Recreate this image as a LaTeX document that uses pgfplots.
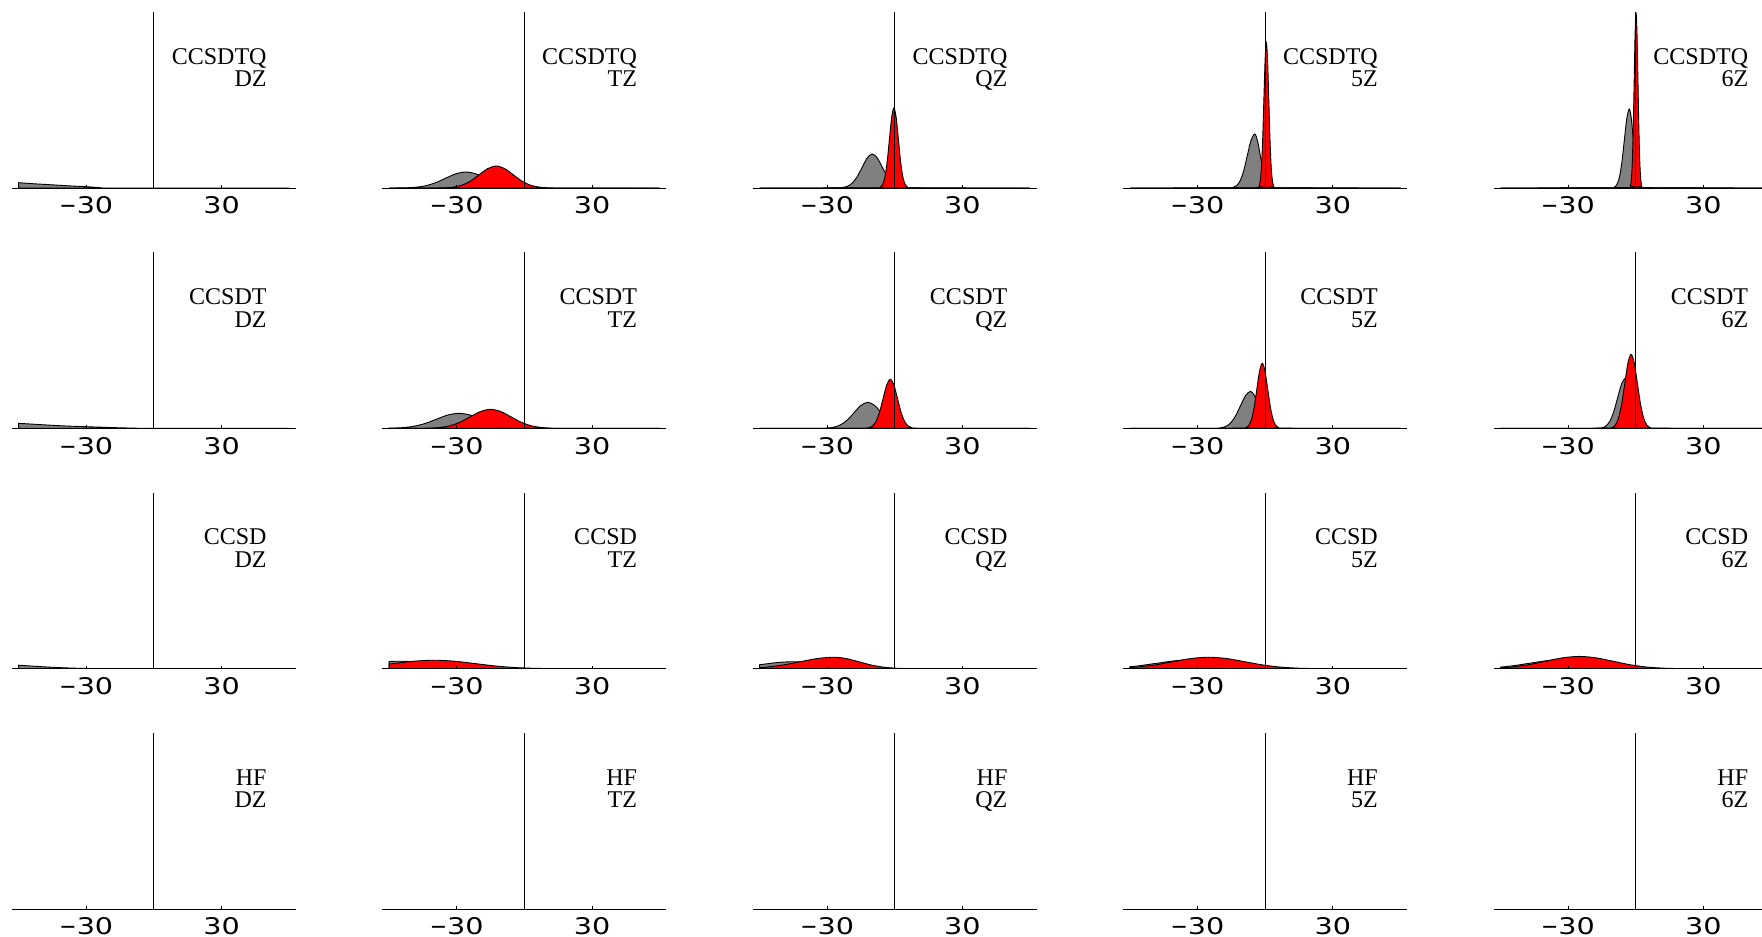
\documentclass[border=0pt]{standalone}
\usepackage{fontspec}
\usepackage{graphicx}
\setmainfont{Liberation Serif}
\newfontfamily\tickfont[FakeStretch=1.25]{DejaVu Sans}
\usepackage{pgfplots}
\pgfplotsset{compat=1.18}
\definecolor{mgray}{RGB}{128,128,128}
\definecolor{mred}{RGB}{255,0,0}
\newcommand\tminus{\scalebox{0.72}[1]{−}}
\pgfplotsset{
 panel/.style={x=2.255bp,y=1bp,xmin=-63,xmax=63,ymin=0,ymax=176,
  axis x line=bottom, axis y line=center,
  axis line style={-,black,line width=1bp},
  ytick=\empty, xtick={-30,30}, xticklabels={\tminus 30,30},
  tick align=inside, major tick length=3bp,
  every tick/.style={black,line width=0.8bp},
  xticklabel style={font=\tickfont\fontsize{23pt}{23pt}\selectfont, inner sep=0pt, anchor=north, yshift=-8.7bp},
  axis on top, anchor=south west, clip=true},
 gcurve/.style={draw=black, line width=0.9bp, fill=mgray, smooth},
 rcurve/.style={draw=black, line width=0.9bp, fill=mred, smooth},
}
\tikzset{lab/.style={font=\fontsize{24.1pt}{24.1pt}\selectfont, inner sep=0pt, anchor=base east}}
\begin{document}
\begin{tikzpicture}
\useasboundingbox (0,0) rectangle (1762bp,-937bp);
\clip (0,0) rectangle (1762bp,-937bp);
% ---------------- Row 1: CCSDTQ ----------------
\begin{axis}[panel, at={(11.93bp,-188bp)}]
\addplot[gcurve] coordinates {(-60,5.3) (-53,4.2) (-46,3.3) (-38,2.2) (-30,1.3) (-24,0.4) (-18,0) (60,0)} \closedcycle;
\node[lab] at (axis cs:50,124) {CCSDTQ};
\node[lab] at (axis cs:50,101.3) {DZ};
\end{axis}
\begin{axis}[panel, at={(382.33bp,-188bp)}]
\addplot[gcurve] coordinates {(-60,0) (-57.5,0.035) (-53,0.18) (-48.5,0.70) (-44,2.16) (-39.5,5.20) (-35,9.70) (-30.5,14.12) (-26,16) (-21.5,14.12) (-17,9.70) (-12.5,5.20) (-8,2.16) (-3.5,0.70) (1,0.18) (5.5,0.035) (60,0)} \closedcycle;
\addplot[rcurve] coordinates {(-60,0) (-38.75,0.048) (-35,0.244) (-31.25,0.966) (-27.5,2.98) (-23.75,7.14) (-20,13.34) (-16.25,19.42) (-12.5,22) (-8.75,19.42) (-5,13.34) (-1.25,7.14) (2.5,2.98) (6.25,0.966) (10,0.244) (13.75,0.048) (60,0)} \closedcycle;
\node[lab] at (axis cs:50,124) {CCSDTQ};
\node[lab] at (axis cs:50,101.3) {TZ};
\end{axis}
\begin{axis}[panel, at={(752.73bp,-188bp)}]
\addplot[gcurve] coordinates {(-60,0) (-25.75,0.075) (-23.5,0.377) (-21.25,1.49) (-19,4.60) (-16.75,11.04) (-14.5,20.62) (-12.25,30.0) (-10,34) (-7.75,30.0) (-5.5,20.62) (-3.25,11.04) (-1,4.60) (1.25,1.49) (3.5,0.377) (5.75,0.075) (60,0)} \closedcycle;
\addplot[rcurve] coordinates {(-60,0) (-7.4,0.176) (-6.4,0.888) (-5.4,3.51) (-4.4,10.82) (-3.4,25.98) (-2.4,48.52) (-1.4,70.6) (-0.4,80) (0.6,70.6) (1.6,48.52) (2.6,25.98) (3.6,10.82) (4.6,3.51) (5.6,0.888) (6.6,0.176) (60,0)} \closedcycle;
\node[lab] at (axis cs:50,124) {CCSDTQ};
\node[lab] at (axis cs:50,101.3) {QZ};
\end{axis}
\begin{axis}[panel, at={(1123.13bp,-188bp)}]
\addplot[gcurve] coordinates {(-60,0) (-15.9,0.119) (-14.3,0.599) (-12.7,2.37) (-11.1,7.31) (-9.5,17.53) (-7.9,32.75) (-6.3,47.66) (-4.7,54) (-3.45,47.66) (-2.2,32.75) (-0.95,17.53) (0.3,7.31) (1.55,2.37) (2.8,0.599) (4.05,0.119) (60,0)} \closedcycle;
\addplot[rcurve] coordinates {(-60,0) (-3.35,0.319) (-2.8,1.61) (-2.25,6.37) (-1.7,19.62) (-1.15,47.08) (-0.6,87.94) (-0.05,127.96) (0.5,145) (1.05,127.96) (1.6,87.94) (2.15,47.08) (2.7,19.62) (3.25,6.37) (3.8,1.61) (4.35,0.319) (60,0)} \closedcycle;
\node[lab] at (axis cs:50,124) {CCSDTQ};
\node[lab] at (axis cs:50,101.3) {5Z};
\end{axis}
\begin{axis}[panel, at={(1493.53bp,-188bp)}]
\addplot[gcurve] coordinates {(-60,0) (-10.5,0.174) (-9.4,0.877) (-8.3,3.47) (-7.2,10.69) (-6.1,25.65) (-5.0,47.91) (-3.9,69.72) (-2.8,79) (-1.9,69.72) (-1.0,47.91) (-0.1,25.65) (0.8,10.69) (1.7,3.47) (2.6,0.877) (3.5,0.174) (60,0)} \closedcycle;
\addplot[rcurve] coordinates {(-60,0) (-2.775,0.385) (-2.35,1.94) (-1.925,7.68) (-1.5,23.68) (-1.075,56.82) (-0.65,106.14) (-0.225,154.44) (0.2,175) (0.625,154.44) (1.05,106.14) (1.475,56.82) (1.9,23.68) (2.325,7.68) (2.75,1.94) (3.175,0.385) (60,0)} \closedcycle;
\node[lab] at (axis cs:50,124) {CCSDTQ};
\node[lab] at (axis cs:50,101.3) {6Z};
\end{axis}
% ---------------- Row 2: CCSDT ----------------
\begin{axis}[panel, at={(11.93bp,-428.3bp)}]
\addplot[gcurve] coordinates {(-60,5) (-52,3.9) (-45,3.0) (-38,2.2) (-30,1.6) (-22,1.0) (-15,0.5) (-8,0.15) (-2,0) (60,0)} \closedcycle;
\node[lab] at (axis cs:50,124) {CCSDT};
\node[lab] at (axis cs:50,101.3) {DZ};
\end{axis}
\begin{axis}[panel, at={(382.33bp,-428.3bp)}]
\addplot[gcurve] coordinates {(-60,0.12) (-59,0.17) (-54,0.66) (-49,2.03) (-44,4.87) (-39,9.10) (-34,13.24) (-29,15) (-24,13.24) (-19,9.10) (-14,4.87) (-9,2.03) (-4,0.66) (1,0.17) (6,0.033) (60,0)} \closedcycle;
\addplot[rcurve] coordinates {(-60,0) (-46.5,0.042) (-42,0.211) (-37.5,0.834) (-33,2.57) (-28.5,6.17) (-24,11.52) (-19.5,16.77) (-15,19) (-10.5,16.77) (-6,11.52) (-1.5,6.17) (3,2.57) (7.5,0.834) (12,0.211) (16.5,0.042) (60,0)} \closedcycle;
\node[lab] at (axis cs:50,124) {CCSDT};
\node[lab] at (axis cs:50,101.3) {TZ};
\end{axis}
\begin{axis}[panel, at={(752.73bp,-428.3bp)}]
\addplot[gcurve] coordinates {(-60,0) (-33,0.057) (-30,0.289) (-27,1.14) (-24,3.52) (-21,8.44) (-18,15.77) (-15,22.95) (-12,26) (-9,22.95) (-6,15.77) (-3,8.44) (0,3.52) (3,1.14) (6,0.289) (9,0.057) (60,0)} \closedcycle;
\addplot[rcurve] coordinates {(-60,0) (-13.2,0.108) (-11.6,0.544) (-10,2.15) (-8.4,6.63) (-6.8,15.91) (-5.2,29.72) (-3.6,43.24) (-2,49) (-0.4,43.24) (1.2,29.72) (2.8,15.91) (4.4,6.63) (6,2.15) (7.6,0.544) (9.2,0.108) (60,0)} \closedcycle;
\node[lab] at (axis cs:50,124) {CCSDT};
\node[lab] at (axis cs:50,101.3) {QZ};
\end{axis}
\begin{axis}[panel, at={(1123.13bp,-428.3bp)}]
\addplot[gcurve] coordinates {(-60,0) (-22.25,0.081) (-20,0.411) (-17.75,1.62) (-15.5,5.01) (-13.25,12.01) (-11,22.44) (-8.75,32.65) (-6.5,37) (-4.75,32.65) (-3,22.44) (-1.25,12.01) (0.5,5.01) (2.25,1.62) (4,0.411) (5.75,0.081) (60,0)} \closedcycle;
\addplot[rcurve] coordinates {(-60,0) (-9.7,0.143) (-8.5,0.722) (-7.3,2.85) (-6.1,8.79) (-4.9,21.11) (-3.7,39.42) (-2.5,57.36) (-1.3,65) (-0.1,57.36) (1.1,39.42) (2.3,21.11) (3.5,8.79) (4.7,2.85) (5.9,0.722) (7.1,0.143) (60,0)} \closedcycle;
\node[lab] at (axis cs:50,124) {CCSDT};
\node[lab] at (axis cs:50,101.3) {5Z};
\end{axis}
\begin{axis}[panel, at={(1493.53bp,-428.3bp)}]
\addplot[gcurve] coordinates {(-60,0) (-16.75,0.11) (-15,0.555) (-13.25,2.20) (-11.5,6.77) (-9.75,16.24) (-8,30.33) (-6.25,44.13) (-4.5,50) (-3.1,44.13) (-1.7,30.33) (-0.3,16.24) (1.1,6.77) (2.5,2.20) (3.9,0.555) (5.3,0.11) (60,0)} \closedcycle;
\addplot[rcurve] coordinates {(-60,0) (-11.8,0.163) (-10.4,0.821) (-9,3.25) (-7.6,10.01) (-6.2,24.03) (-4.8,44.88) (-3.4,65.31) (-2,74) (-0.6,65.31) (0.8,44.88) (2.2,24.03) (3.6,10.01) (5,3.25) (6.4,0.821) (7.8,0.163) (60,0)} \closedcycle;
\node[lab] at (axis cs:50,124) {CCSDT};
\node[lab] at (axis cs:50,101.3) {6Z};
\end{axis}
% ---------------- Row 3: CCSD ----------------
\begin{axis}[panel, at={(11.93bp,-668.7bp)}]
\addplot[gcurve] coordinates {(-60,3.5) (-54,2.6) (-48,1.8) (-42,1.1) (-36,0.6) (-30,0.25) (-24,0.05) (-18,0) (60,0)} \closedcycle;
\node[lab] at (axis cs:50,124) {CCSD};
\node[lab] at (axis cs:50,101.3) {DZ};
\end{axis}
\begin{axis}[panel, at={(382.33bp,-668.7bp)}]
\addplot[gcurve] coordinates {(-60,7.14) (-55,7.5) (-47,6.62) (-39,4.55) (-31,2.44) (-23,1.01) (-15,0.33) (-7,0.083) (1,0.017) (10,0) (60,0)} \closedcycle;
\addplot[rcurve] coordinates {(-60,4.58) (-58,5.16) (-49,7.50) (-40,8.5) (-31,7.50) (-22,5.16) (-13,2.76) (-4,1.15) (5,0.373) (14,0.094) (23,0.019) (32,0) (60,0)} \closedcycle;
\node[lab] at (axis cs:50,124) {CCSD};
\node[lab] at (axis cs:50,101.3) {TZ};
\end{axis}
\begin{axis}[panel, at={(752.73bp,-668.7bp)}]
\addplot[gcurve] coordinates {(-60,3.94) (-52,6.18) (-45,7) (-38,6.18) (-31,4.25) (-24,2.27) (-17,0.95) (-10,0.31) (-3,0.077) (4,0.015) (12,0) (60,0)} \closedcycle;
\addplot[rcurve] coordinates {(-60,1.02) (-57,1.56) (-49.5,3.73) (-42,6.97) (-34.5,10.15) (-27,11.5) (-21.5,10.15) (-16,6.97) (-10.5,3.73) (-5,1.56) (0.5,0.505) (6,0.128) (11.5,0.025) (20,0) (60,0)} \closedcycle;
\node[lab] at (axis cs:50,124) {CCSD};
\node[lab] at (axis cs:50,101.3) {QZ};
\end{axis}
\begin{axis}[panel, at={(1123.13bp,-668.7bp)}]
\addplot[gcurve] coordinates {(-60,1.95) (-56,2.92) (-48,5.46) (-40,7.94) (-32,9) (-24,7.94) (-16,5.46) (-8,2.92) (0,1.22) (8,0.395) (16,0.099) (24,0.02) (32,0) (60,0)} \closedcycle;
\addplot[rcurve] coordinates {(-60,1.05) (-57,1.56) (-49,3.73) (-41,6.97) (-33,10.15) (-25,11.5) (-17,10.15) (-9,6.97) (-1,3.73) (7,1.56) (15,0.505) (23,0.128) (31,0.025) (40,0) (60,0)} \closedcycle;
\node[lab] at (axis cs:50,124) {CCSD};
\node[lab] at (axis cs:50,101.3) {5Z};
\end{axis}
\begin{axis}[panel, at={(1493.53bp,-668.7bp)}]
\addplot[gcurve] coordinates {(-60,1.58) (-54.5,2.92) (-47,5.46) (-39.5,7.94) (-32,9) (-24.5,7.94) (-17,5.46) (-9.5,2.92) (-2,1.22) (5.5,0.395) (13,0.099) (20.5,0.02) (28,0) (60,0)} \closedcycle;
\addplot[rcurve] coordinates {(-60,0.81) (-55,1.66) (-47.5,3.99) (-40,7.46) (-32.5,10.85) (-25,12.3) (-17.5,10.85) (-10,7.46) (-2.5,3.99) (5,1.66) (12.5,0.54) (20,0.137) (27.5,0.027) (35,0) (60,0)} \closedcycle;
\node[lab] at (axis cs:50,124) {CCSD};
\node[lab] at (axis cs:50,101.3) {6Z};
\end{axis}
% ---------------- Row 4: HF ----------------
\begin{axis}[panel, at={(11.93bp,-909bp)}]
\node[lab] at (axis cs:50,124) {HF};
\node[lab] at (axis cs:50,101.3) {DZ};
\end{axis}
\begin{axis}[panel, at={(382.33bp,-909bp)}]
\node[lab] at (axis cs:50,124) {HF};
\node[lab] at (axis cs:50,101.3) {TZ};
\end{axis}
\begin{axis}[panel, at={(752.73bp,-909bp)}]
\node[lab] at (axis cs:50,124) {HF};
\node[lab] at (axis cs:50,101.3) {QZ};
\end{axis}
\begin{axis}[panel, at={(1123.13bp,-909bp)}]
\node[lab] at (axis cs:50,124) {HF};
\node[lab] at (axis cs:50,101.3) {5Z};
\end{axis}
\begin{axis}[panel, at={(1493.53bp,-909bp)}]
\node[lab] at (axis cs:50,124) {HF};
\node[lab] at (axis cs:50,101.3) {6Z};
\end{axis}
\end{tikzpicture}
\end{document}
